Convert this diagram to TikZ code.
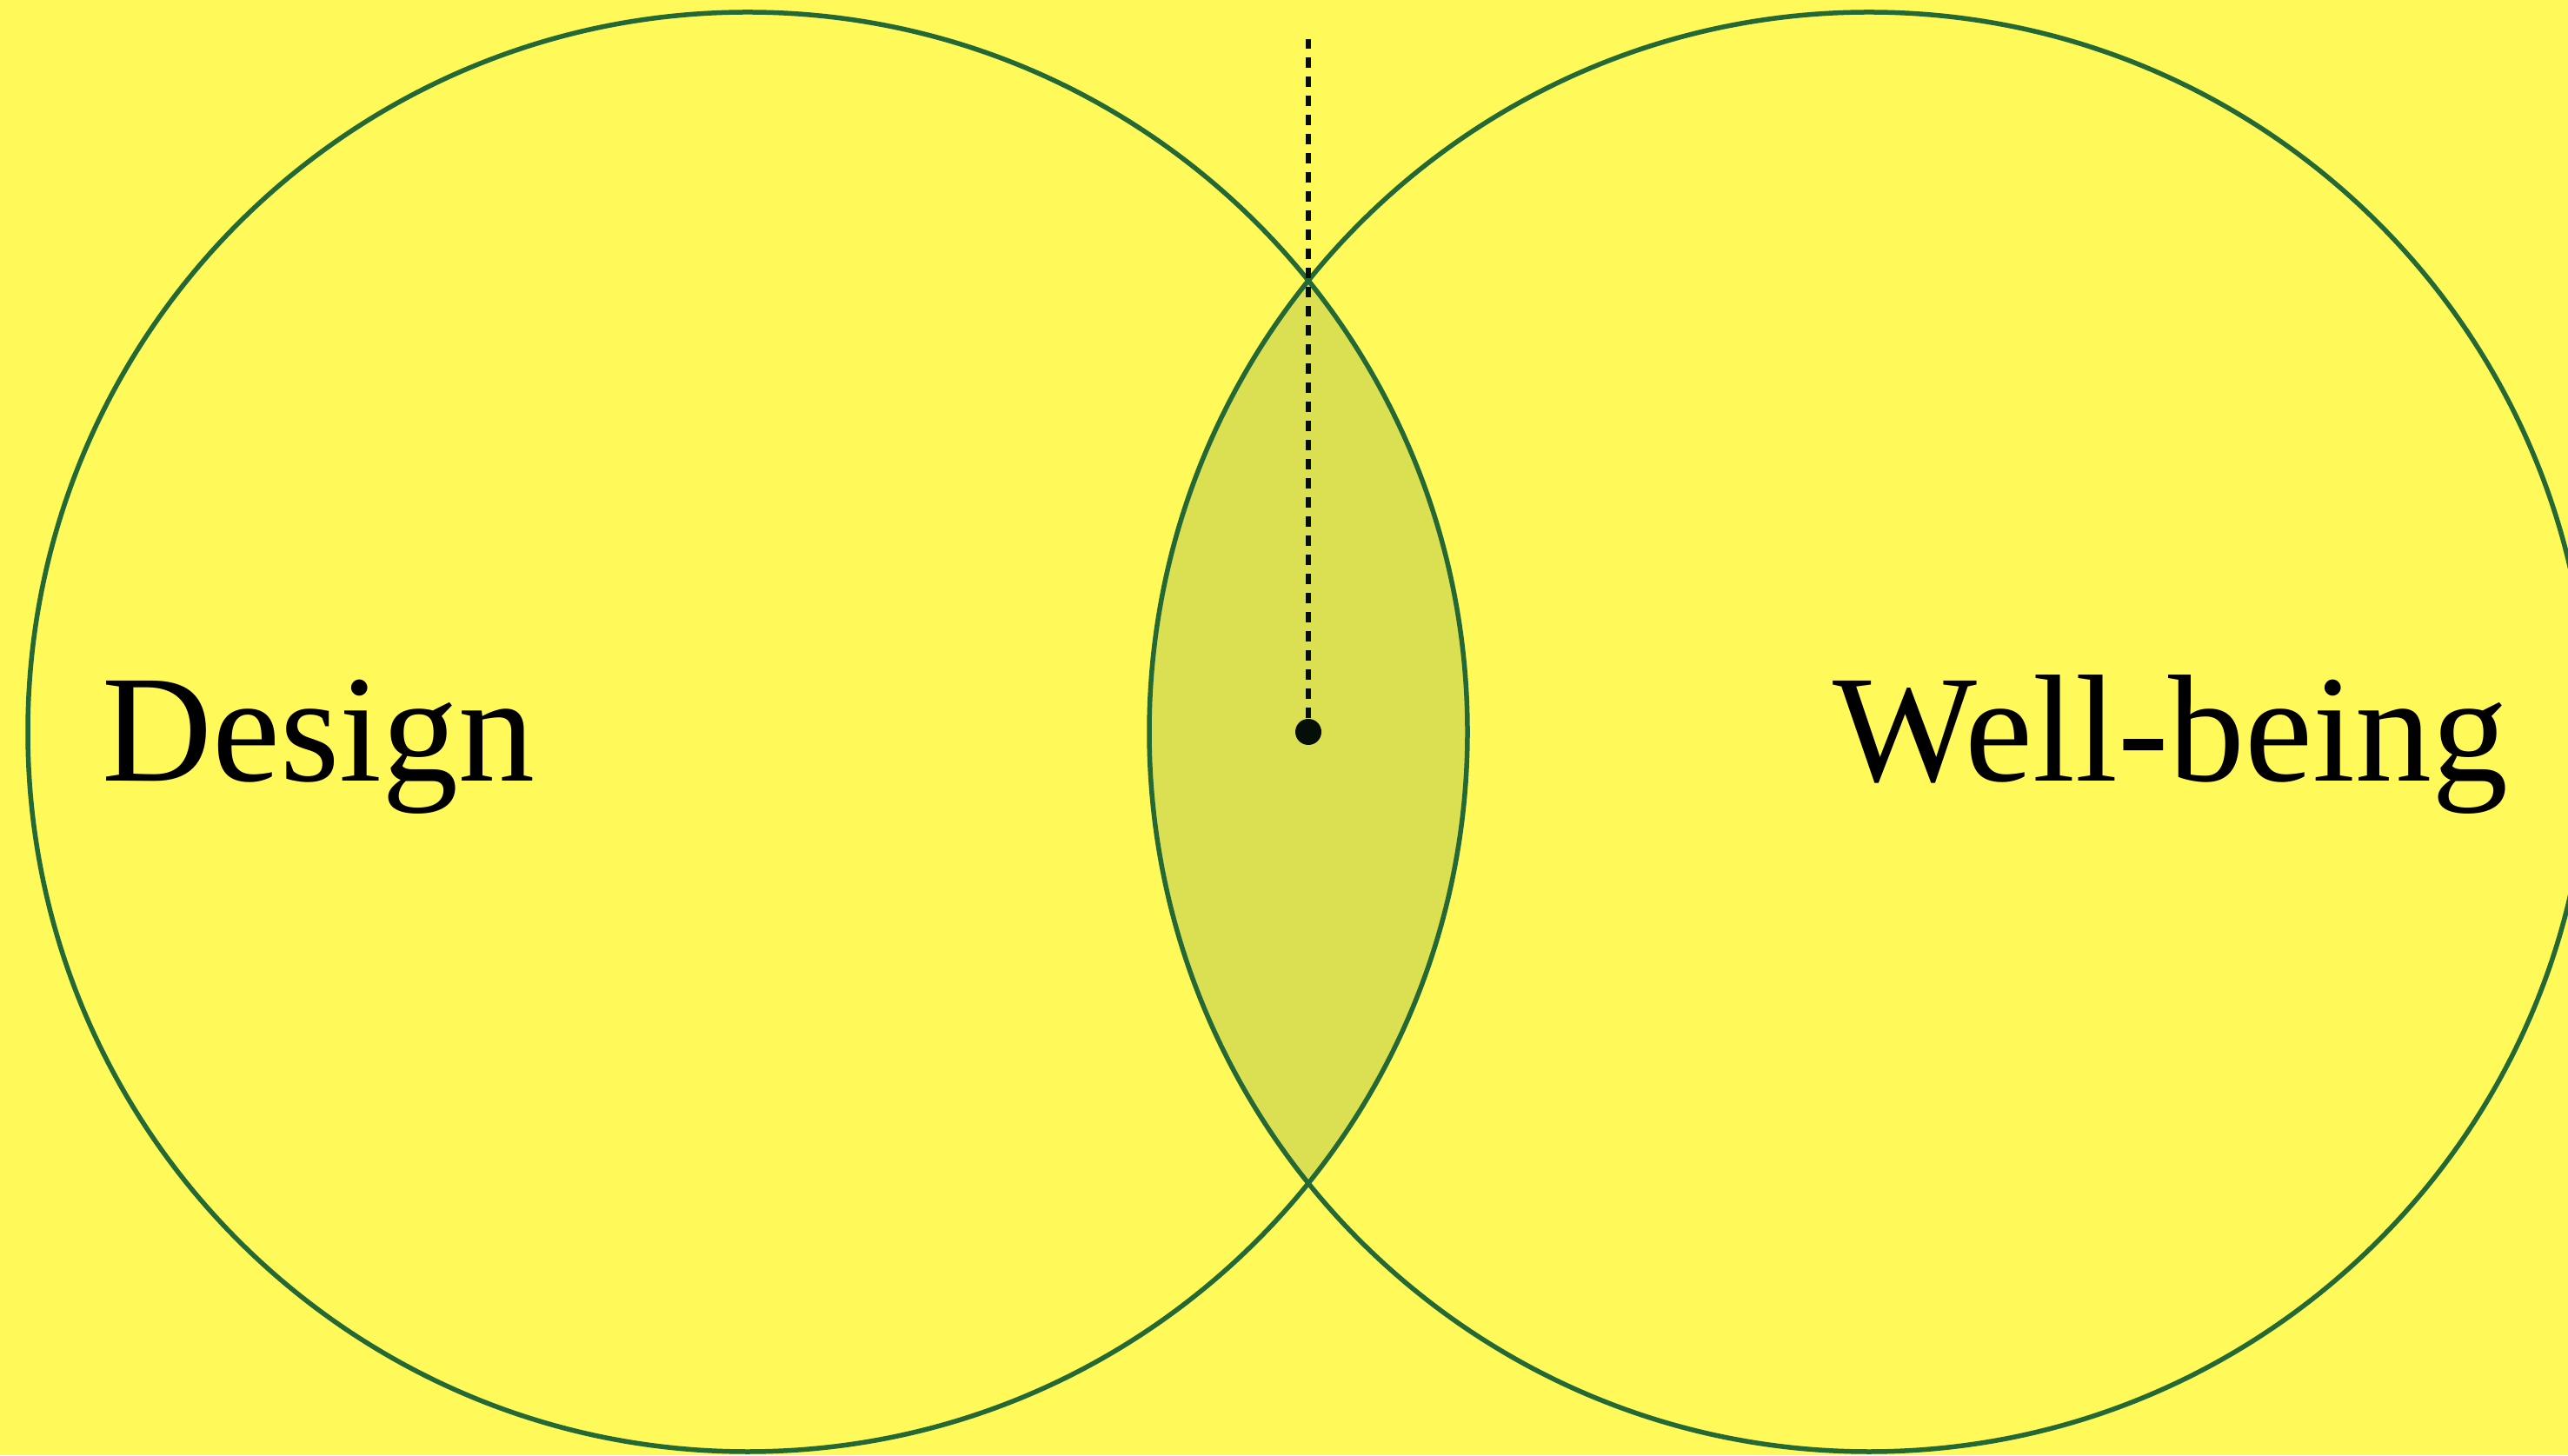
\documentclass[tikz,border=0pt]{standalone}
\usepackage{fontspec}
\setmainfont{Liberation Serif}
\usepackage{xcolor}
\usepackage{tikz}
\usetikzlibrary{positioning}

\definecolor{bgyellow}{HTML}{FFF95A}
\definecolor{lensfill}{HTML}{DBDF52}
\definecolor{ringgreen}{HTML}{236835}
\definecolor{dotblack}{HTML}{050F08}

\begin{document}
\begin{tikzpicture}[
    ring/.style={draw=ringgreen, line width=0.055cm},
    setname/.style={anchor=base west, inner sep=0pt,
                    font=\fontsize{50}{60}\selectfont},
    hubdot/.style={circle, fill=dotblack, inner sep=0pt, minimum size=0.30cm},
    stem/.style={draw=dotblack, line width=0.055cm, dash pattern=on 0.12cm off 0.10cm},
]
  \useasboundingbox (0,0) rectangle (29.54,16.74);
  \clip (0,0) rectangle (29.54,16.74);
  \fill[bgyellow] (0,0) rectangle (29.54,16.74);

  \coordinate (dc) at (8.60,8.32);
  \coordinate (wc) at (21.50,8.32);

  \begin{scope}
    \clip (dc) circle (8.28);
    \fill[lensfill] (wc) circle (8.28);
  \end{scope}

  \draw[ring] (dc) circle (8.28);
  \draw[ring] (wc) circle (8.28);

  \node[hubdot] (hub) at (15.05,8.32) {};
  \coordinate (top) at (15.05,16.29);
  \draw[stem] (hub) -- (top);

  \node[setname] (design)    at (1.17,7.75) {Design};
  \node[setname] (wellbeing) at (21.08,7.75) {Well-being};
\end{tikzpicture}
\end{document}
